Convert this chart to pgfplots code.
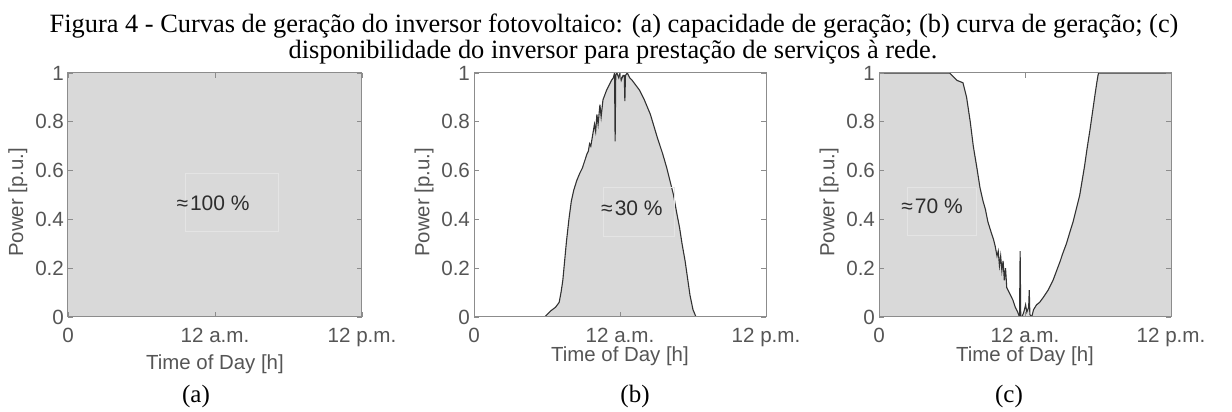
\documentclass[border=0pt]{standalone}
\usepackage{fontspec}
\setmainfont{Liberation Serif}
\newfontfamily\arial{Liberation Sans}
\usepackage{pgfplots}
\pgfplotsset{compat=1.18}
\definecolor{fillgray}{RGB}{217,217,217}
\definecolor{curve}{RGB}{50,50,50}
\definecolor{tickgray}{RGB}{85,85,85}
\definecolor{framegray}{RGB}{140,140,140}
\definecolor{annot}{RGB}{45,45,45}
\definecolor{boxgray}{RGB}{228,228,228}

\pgfplotsset{
  panel/.style={
    scale only axis,
    width=146pt, height=122pt,
    anchor=south west,
    xmin=0, xmax=24, ymin=0, ymax=1,
    xtick={0,12,24},
    xticklabels={0,12 a.m.,12 p.m.},
    ytick={0,0.2,0.4,0.6,0.8,1},
    yticklabels={0,0.2,0.4,0.6,0.8,1},
    tick align=inside,
    major tick length=2.5pt,
    every tick/.style={framegray, line width=0.4pt},
    axis line style={framegray, line width=0.5pt},
    ticklabel style={font=\arial\fontsize{10.3}{12}\selectfont, text=tickgray},
    label style={font=\arial\fontsize{10.2}{12}\selectfont, text=tickgray},
    /pgf/number format/assume math mode=true,
    xlabel={Time of Day [h]},
    ylabel={Power [p.u.]},
    xticklabel style={yshift=-2pt},
    yticklabel style={xshift=1.5pt},
    ylabel style={at={(axis description cs:-0.114,0.47)}, anchor=south},
    axis on top,
    clip=true,
  }
}

\begin{document}
\begin{tikzpicture}
\useasboundingbox (0,0) rectangle (616pt,206pt);

% caption
\node[anchor=base, font=\fontsize{13.2}{14}\selectfont] at (307pt,189.5pt)
  {Figura 4 - Curvas de geração do inversor fotovoltaico: (a) capacidade de geração; (b) curva de geração; (c)};
\node[anchor=base, font=\fontsize{13.2}{14}\selectfont] at (306.5pt,176.5pt)
  {disponibilidade do inversor para prestação de serviços à rede.};

% (a)
\begin{axis}[panel, at={(34pt,47.5pt)}, width=147pt,
  xlabel style={at={(axis description cs:0.5,0)}, anchor=base, yshift=-26.5pt}]
\addplot[fill=fillgray, draw=none] coordinates {(0,1) (24,1)} \closedcycle;
\draw[boxgray, line width=0.4pt] (axis cs:9.55,0.35) rectangle (axis cs:17.2,0.59);
\node[text=annot, font=\arial\fontsize{10.5}{12}\selectfont] at (axis cs:11.84,0.467) {≈\kern1pt100 \%};
\end{axis}

% (b)
\begin{axis}[panel, at={(237pt,47.5pt)},
  xlabel style={at={(axis description cs:0.5,0)}, anchor=base, yshift=-22.5pt}]
\addplot[fill=fillgray, draw=none] coordinates {
(0,0) (5.8,0) (6.0,0.01) (6.3,0.025) (6.7,0.04) (7.0,0.06) (7.15,0.1) (7.3,0.15)
(7.45,0.23) (7.6,0.31) (7.8,0.4) (8.0,0.475) (8.2,0.52) (8.45,0.56) (8.7,0.59)
(8.9,0.61) (9.1,0.64) (9.3,0.67) (9.4,0.68) (9.5,0.71) (9.6,0.70) (9.8,0.76)
(9.9,0.79) (10.0,0.76) (10.1,0.83) (10.2,0.79) (10.35,0.87) (10.45,0.82) (10.6,0.89)
(10.75,0.91) (10.9,0.93) (11.1,0.95) (11.3,0.97) (11.45,0.98) (11.55,1.0) (11.6,0.72)
(11.65,0.99) (11.75,1.0) (11.9,0.98) (12.0,1.0) (12.1,0.97) (12.25,0.99) (12.35,0.99)
(12.4,0.885) (12.45,0.99) (12.6,1.0) (12.8,0.98) (13.0,0.97) (13.3,0.95) (13.6,0.93)
(14.0,0.89) (14.5,0.83) (15.1,0.73) (15.5,0.67) (15.85,0.61) (16.1,0.56) (16.4,0.5)
(16.65,0.43) (16.9,0.365) (17.1,0.3) (17.35,0.23) (17.55,0.16) (17.75,0.09) (18.0,0.03)
(18.25,0) (24,0)} \closedcycle;
\addplot[curve, line width=0.55pt] coordinates {
(0,0) (5.8,0) (6.0,0.01) (6.3,0.025) (6.7,0.04) (7.0,0.06) (7.15,0.1) (7.3,0.15)
(7.45,0.23) (7.6,0.31) (7.8,0.4) (8.0,0.475) (8.2,0.52) (8.45,0.56) (8.7,0.59)
(8.9,0.61) (9.1,0.64) (9.3,0.67) (9.4,0.68) (9.5,0.71) (9.6,0.70) (9.8,0.76)
(9.9,0.79) (10.0,0.76) (10.1,0.83) (10.2,0.79) (10.35,0.87) (10.45,0.82) (10.6,0.89)
(10.75,0.91) (10.9,0.93) (11.1,0.95) (11.3,0.97) (11.45,0.98) (11.55,1.0) (11.6,0.72)
(11.65,0.99) (11.75,1.0) (11.9,0.98) (12.0,1.0) (12.1,0.97) (12.25,0.99) (12.35,0.99)
(12.4,0.885) (12.45,0.99) (12.6,1.0) (12.8,0.98) (13.0,0.97) (13.3,0.95) (13.6,0.93)
(14.0,0.89) (14.5,0.83) (15.1,0.73) (15.5,0.67) (15.85,0.61) (16.1,0.56) (16.4,0.5)
(16.65,0.43) (16.9,0.365) (17.1,0.3) (17.35,0.23) (17.55,0.16) (17.75,0.09) (18.0,0.03)
(18.25,0) (24,0)};
\draw[boxgray, line width=0.4pt] (axis cs:10.6,0.33) rectangle (axis cs:16.5,0.53);
\node[text=annot, font=\arial\fontsize{10.5}{12}\selectfont] at (axis cs:12.98,0.447) {≈\kern1pt30 \%};
\end{axis}

% (c)
\begin{axis}[panel, at={(439.5pt,47.5pt)},
  xlabel style={at={(axis description cs:0.5,0)}, anchor=base, yshift=-22.5pt}]
\addplot[fill=fillgray, draw=none] coordinates {
(0,1) (5.8,1) (6.0,0.99) (6.4,0.97) (6.9,0.96) (7.05,0.93) (7.2,0.9) (7.5,0.8)
(7.75,0.7) (8.05,0.61) (8.3,0.53) (8.55,0.475) (8.75,0.44) (8.95,0.39) (9.2,0.35)
(9.4,0.32) (9.55,0.29) (9.7,0.25) (9.8,0.27) (9.9,0.21) (10.0,0.25) (10.1,0.19)
(10.2,0.23) (10.3,0.15) (10.4,0.2) (10.5,0.12) (10.7,0.1) (11.0,0.07) (11.2,0.04)
(11.4,0.02) (11.55,0.0) (11.6,0.27) (11.65,0.0) (11.75,0) (11.9,0.02) (12.05,0.05)
(12.15,0.02) (12.3,0.04) (12.35,0.11) (12.4,0.01) (12.55,0) (12.7,0.03) (12.95,0.05)
(13.2,0.06) (13.5,0.08) (13.9,0.11) (14.3,0.15) (14.6,0.19) (14.9,0.23) (15.1,0.26)
(15.4,0.3) (15.7,0.35) (15.95,0.39) (16.2,0.44) (16.5,0.5) (16.7,0.56) (16.9,0.62)
(17.1,0.69) (17.35,0.77) (17.55,0.84) (17.75,0.91) (17.9,0.96) (18.0,0.99) (18.05,1)
(24,1)} \closedcycle;
\addplot[curve, line width=0.55pt] coordinates {
(0,1) (5.8,1) (6.0,0.99) (6.4,0.97) (6.9,0.96) (7.05,0.93) (7.2,0.9) (7.5,0.8)
(7.75,0.7) (8.05,0.61) (8.3,0.53) (8.55,0.475) (8.75,0.44) (8.95,0.39) (9.2,0.35)
(9.4,0.32) (9.55,0.29) (9.7,0.25) (9.8,0.27) (9.9,0.21) (10.0,0.25) (10.1,0.19)
(10.2,0.23) (10.3,0.15) (10.4,0.2) (10.5,0.12) (10.7,0.1) (11.0,0.07) (11.2,0.04)
(11.4,0.02) (11.55,0.0) (11.6,0.27) (11.65,0.0) (11.75,0) (11.9,0.02) (12.05,0.05)
(12.15,0.02) (12.3,0.04) (12.35,0.11) (12.4,0.01) (12.55,0) (12.7,0.03) (12.95,0.05)
(13.2,0.06) (13.5,0.08) (13.9,0.11) (14.3,0.15) (14.6,0.19) (14.9,0.23) (15.1,0.26)
(15.4,0.3) (15.7,0.35) (15.95,0.39) (16.2,0.44) (16.5,0.5) (16.7,0.56) (16.9,0.62)
(17.1,0.69) (17.35,0.77) (17.55,0.84) (17.75,0.91) (17.9,0.96) (18.0,0.99) (18.05,1)
(24,1)};
\draw[boxgray, line width=0.4pt] (axis cs:2.3,0.336) rectangle (axis cs:8.0,0.533);
\node[text=annot, font=\arial\fontsize{10.5}{12}\selectfont] at (axis cs:4.36,0.455) {≈\kern1pt70 \%};
\end{axis}

% panel labels
\node[anchor=base, font=\fontsize{12.5}{14}\selectfont] at (98pt,4.5pt) {(a)};
\node[anchor=base, font=\fontsize{12.5}{14}\selectfont] at (317.5pt,4.5pt) {(b)};
\node[anchor=base, font=\fontsize{12.5}{14}\selectfont] at (504.5pt,4.5pt) {(c)};
\end{tikzpicture}
\end{document}
